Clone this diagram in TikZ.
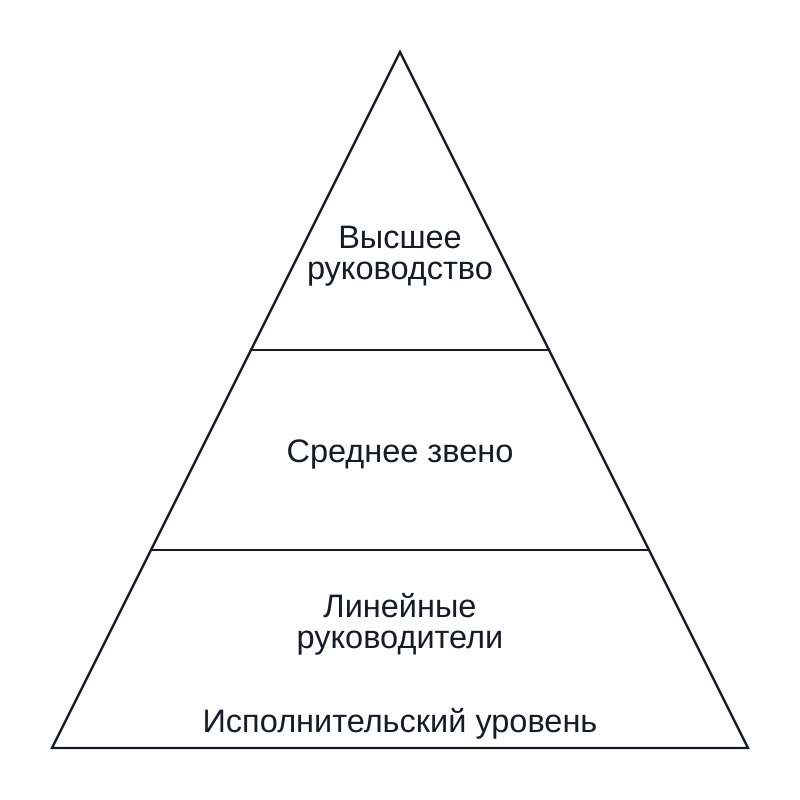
\documentclass[tikz,border=0pt]{standalone}
\usepackage{fontspec}
\setmainfont{Liberation Sans}
\usetikzlibrary{calc}
\definecolor{ink}{HTML}{161B26}
\begin{document}
\begin{tikzpicture}[x=1pt,y=-1pt,
  edge/.style={draw=ink,line width=2.4pt,line join=miter},
  lbl/.style={text=ink,font=\fontsize{32.5}{31}\selectfont,align=center,inner sep=0pt}]
\useasboundingbox (0,0) rectangle (800,800);
\coordinate (apex) at (400,52);
\coordinate (bl) at (52,748);
\coordinate (br) at (748,748);
\coordinate (l1) at ($(apex)!0.4282!(bl)$);
\coordinate (r1) at ($(apex)!0.4282!(br)$);
\coordinate (l2) at ($(apex)!0.7155!(bl)$);
\coordinate (r2) at ($(apex)!0.7155!(br)$);
\draw[edge] (apex) -- (br) -- (bl) -- cycle;
\draw[edge] (l1) -- (r1);
\draw[edge] (l2) -- (r2);
\node[lbl] (top) at (400,256) {Высшее\\руководство};
\node[lbl] (mid) at (400,455) {Среднее звено};
\node[lbl] (low) at (400,624.5) {Линейные\\руководители};
\node[lbl] (exec) at (400,724) {Исполнительский уровень};
\end{tikzpicture}
\end{document}
